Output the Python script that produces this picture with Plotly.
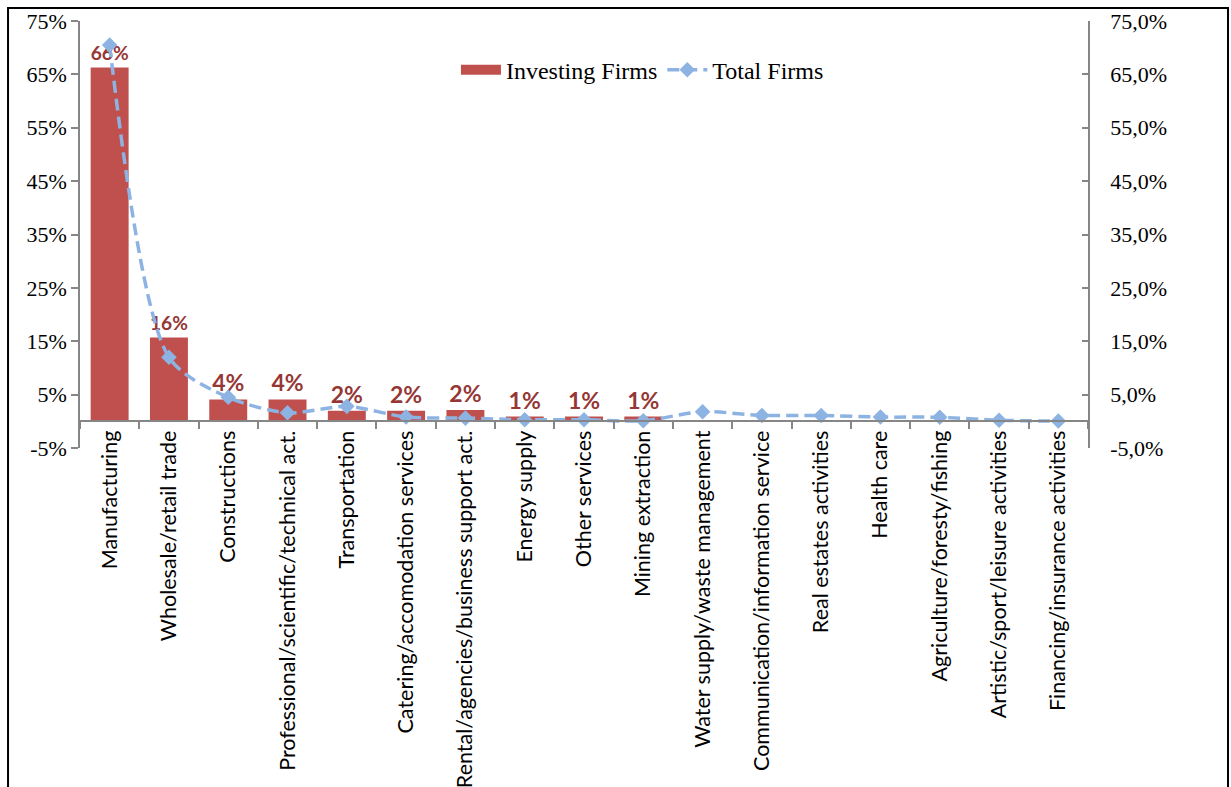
import plotly.graph_objects as go

# Sector shares of investing firms vs. all firms
sectors = [
    "Manufacturing",
    "Wholesale/retail trade",
    "Constructions",
    "Professional/scientific/technical act.",
    "Transportation",
    "Catering/accomodation services",
    "Rental/agencies/business support act.",
    "Energy supply",
    "Other services",
    "Mining extraction",
    "Water supply/waste management",
    "Communication/information service",
    "Real estates activities",
    "Health care",
    "Agriculture/foresty/fishing",
    "Artistic/sport/leisure activities",
    "Financing/insurance activities",
]

investing_firms = [0.663, 0.157, 0.041, 0.041, 0.020, 0.020, 0.021, 0.009, 0.009, 0.009,
                   None, None, None, None, None, None, None]

total_firms = [0.705, 0.120, 0.045, 0.016, 0.028, 0.008, 0.006, 0.003, 0.003, 0.001,
               0.018, 0.011, 0.011, 0.008, 0.0075, 0.002, 0.0005]

left_ticks = [-0.05, 0.05, 0.15, 0.25, 0.35, 0.45, 0.55, 0.65, 0.75]
left_tick_text = ["-5%", "5%", "15%", "25%", "35%", "45%", "55%", "65%", "75%"]
right_tick_text = ["-5,0%", "5,0%", "15,0%", "25,0%", "35,0%", "45,0%", "55,0%", "65,0%", "75,0%"]

BAR_COLOR = "#C0504D"
LINE_COLOR = "#8DB3E2"
AXIS_COLOR = "#868686"
SERIF = "Liberation Serif, Times New Roman, serif"
SANS = "Lato, Open Sans, sans-serif"

Y_MIN, Y_MAX = -0.05, 0.75

fig = go.Figure()

fig.add_trace(go.Bar(
    x=sectors,
    y=investing_firms,
    name="Investing Firms",
    marker=dict(color=BAR_COLOR, line=dict(width=0)),
    width=0.64,
    texttemplate="%{y:.0%}",
    textposition="outside",
    textfont=dict(family=SANS, size=23, color="#953735", weight="bold"),
    cliponaxis=False,
    showlegend=False,
    yaxis="y",
))

# Legend entry for the bars, drawn as a wide swatch
fig.add_trace(go.Scatter(
    x=[None], y=[None],
    name="Investing Firms",
    mode="lines",
    line=dict(color=BAR_COLOR, width=13),
    yaxis="y",
))

fig.add_trace(go.Scatter(
    x=sectors,
    y=total_firms,
    name="Total Firms",
    mode="lines+markers",
    line=dict(color=LINE_COLOR, width=3.5, dash="12px,6px", shape="spline", smoothing=0.8),
    marker=dict(symbol="diamond", size=12, color=LINE_COLOR),
    yaxis="y2",
))

# Position of the category axis (value 0) in paper coordinates
zero_pos = (0 - Y_MIN) / (Y_MAX - Y_MIN)

fig.update_layout(
    width=1231,
    height=787,
    margin=dict(l=80, r=143, t=21, b=339, autoexpand=False),
    paper_bgcolor="white",
    plot_bgcolor="white",
    showlegend=True,
    legend=dict(
        orientation="h",
        x=0.558, xanchor="center",
        y=0.885, yanchor="middle",
        font=dict(family=SERIF, size=24, color="black"),
        bgcolor="rgba(0,0,0,0)",
        itemwidth=40,
    ),
    xaxis=dict(
        type="category",
        range=[-0.5, len(sectors) - 0.5],
        anchor="free",
        position=zero_pos,
        automargin=False,
        showline=True,
        linecolor=AXIS_COLOR,
        linewidth=1.5,
        ticks="outside",
        tickson="boundaries",
        ticklen=7,
        tickcolor=AXIS_COLOR,
        tickwidth=1.5,
        tickangle=-90,
        tickfont=dict(family=SANS, size=21.5, color="black"),
        showgrid=False,
        zeroline=False,
    ),
    yaxis=dict(
        range=[Y_MIN, Y_MAX],
        tickvals=left_ticks,
        ticktext=left_tick_text,
        automargin=False,
        showline=True,
        linecolor=AXIS_COLOR,
        linewidth=1.5,
        ticks="outside",
        ticklen=7,
        tickcolor=AXIS_COLOR,
        tickwidth=1.5,
        tickfont=dict(family=SERIF, size=22, color="black"),
        showgrid=False,
        zeroline=False,
        anchor="x",
    ),
    yaxis2=dict(
        range=[Y_MIN, Y_MAX],
        tickvals=left_ticks,
        ticktext=right_tick_text,
        overlaying="y",
        side="right",
        anchor="x",
        automargin=False,
        showline=True,
        linecolor=AXIS_COLOR,
        linewidth=1.5,
        ticks="inside",
        ticklen=6,
        tickcolor=AXIS_COLOR,
        tickwidth=1.5,
        ticklabelstandoff=16,
        tickfont=dict(family=SERIF, size=22, color="black"),
        showgrid=False,
        zeroline=False,
    ),
    bargap=0.36,
)

# Outer chart frame
fig.add_shape(
    type="rect", xref="paper", yref="paper",
    x0=-0.0714, x1=1.1389, y0=-0.9, y1=1.0304,
    line=dict(color="black", width=2),
    fillcolor="rgba(0,0,0,0)",
    layer="below",
)

fig.write_html("out.html")
